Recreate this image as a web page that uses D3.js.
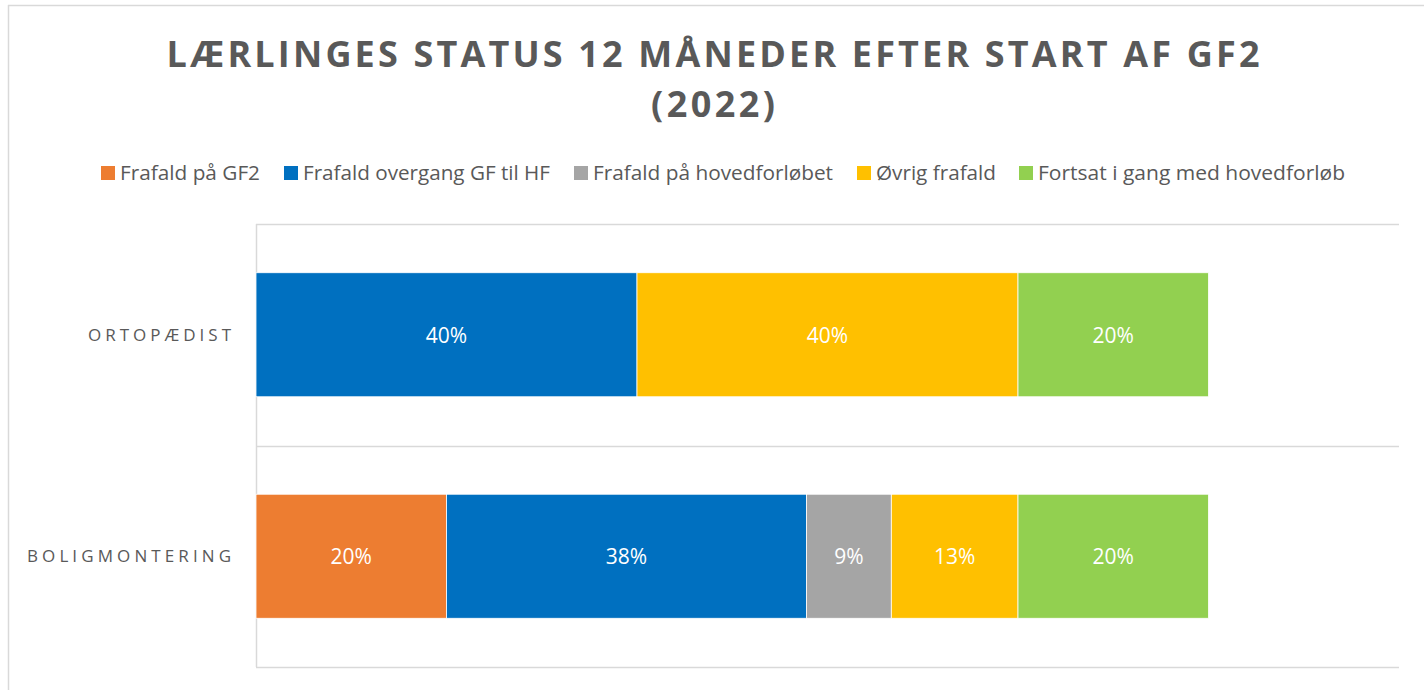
<!DOCTYPE html>
<html>
<head>
<meta charset="utf-8">
<script src="https://cdn.jsdelivr.net/npm/d3@7"></script>
<style>
  html, body { margin: 0; padding: 0; background: #fff; }
  svg { display: block; font-family: "Open Sans", "Noto Sans", sans-serif; }
</style>
</head>
<body>
<svg id="chart" width="1424" height="690"></svg>
<script>
// ---- Data ----
const titleLines = ["LÆRLINGES STATUS 12 MÅNEDER EFTER START AF GF2", "(2022)"];
const categories = ["ORTOPÆDIST", "BOLIGMONTERING"];
const seriesNames = ["Frafald på GF2", "Frafald overgang GF til HF", "Frafald på hovedforløbet", "Øvrig frafald", "Fortsat i gang med hovedforløb"];
const seriesColors = ["#ED7D31", "#0070C0", "#A5A5A5", "#FFC000", "#92D050"];
const ortopaedist = [0, 0.40, 0, 0.40, 0.20];
const boligmontering = [0.20, 0.378, 0.089, 0.133, 0.20];
const valuesByCategory = [ortopaedist, boligmontering];
const xDomain = [0, 1.2];

// ---- Layout ----
const svg = d3.select("#chart");
const W = 1424, H = 690;
const plot = { left: 256, right: 1399, top: 224, bottom: 667 };
const textColor = "#595959";
const gridColor = "#D9D9D9";

// outer frame (partial, as in the reference crop)
svg.append("line").attr("x1", 8).attr("x2", W).attr("y1", 5.5).attr("y2", 5.5)
  .attr("stroke", gridColor).attr("stroke-width", 1.5);
svg.append("line").attr("x1", 8.5).attr("x2", 8.5).attr("y1", 5).attr("y2", H)
  .attr("stroke", gridColor).attr("stroke-width", 1.5);

// title
const titleWidths = [1093, 124];
const titleY = [67, 117];
titleLines.forEach((t, i) => {
  svg.append("text")
    .attr("x", W / 2 + 1).attr("y", titleY[i])
    .attr("text-anchor", "middle")
    .attr("font-size", 36).attr("font-weight", 700)
    .attr("fill", textColor)
    .attr("textLength", titleWidths[i]).attr("lengthAdjust", "spacing")
    .text(t);
});

// legend
const legendX = [101, 284, 574, 857, 1019];
const legendTextW = [140, 247, 240, 120, 307];
const lg = svg.append("g");
seriesNames.forEach((name, i) => {
  lg.append("rect").attr("x", legendX[i]).attr("y", 166).attr("width", 14).attr("height", 14)
    .attr("fill", seriesColors[i]);
  lg.append("text").attr("x", legendX[i] + 19).attr("y", 179.5)
    .attr("font-size", 20.5).attr("fill", textColor)
    .attr("textLength", legendTextW[i]).attr("lengthAdjust", "spacingAndGlyphs")
    .text(name);
});

// scales
const x = d3.scaleLinear().domain(xDomain).range([plot.left, plot.right]);
const y = d3.scaleBand().domain(categories).range([plot.top, plot.bottom])
  .paddingInner(0.44).paddingOuter(0.22);
const yCell = d3.scaleBand().domain(categories).range([plot.top, plot.bottom]).padding(0);

// gridlines (category separators)
const gridYs = [plot.top, ...categories.map(c => yCell(c) + yCell.bandwidth())];
svg.append("g").selectAll("line").data(gridYs).join("line")
  .attr("x1", plot.left).attr("x2", plot.right)
  .attr("y1", d => Math.round(d) + 0.5).attr("y2", d => Math.round(d) + 0.5)
  .attr("stroke", gridColor).attr("stroke-width", 1.5);

// y axis line
svg.append("line").attr("x1", plot.left + 0.5).attr("x2", plot.left + 0.5)
  .attr("y1", plot.top).attr("y2", plot.bottom)
  .attr("stroke", gridColor).attr("stroke-width", 1.5);

// stacked bars
const stackData = categories.map((c, ci) => {
  const row = { cat: c };
  seriesNames.forEach((s, si) => row[s] = valuesByCategory[ci][si]);
  return row;
});
const stacked = d3.stack().keys(seriesNames)(stackData);

const barsG = svg.append("g");
stacked.forEach((layer, si) => {
  layer.forEach(seg => {
    const v = seg[1] - seg[0];
    if (v <= 0) return;
    const cat = seg.data.cat;
    const x0 = x(seg[0]), x1 = x(seg[1]);
    barsG.append("rect")
      .attr("x", x0).attr("y", y(cat))
      .attr("width", x1 - x0).attr("height", y.bandwidth())
      .attr("fill", seriesColors[si])
      .attr("stroke", "#ffffff").attr("stroke-width", 0.8);
    barsG.append("text")
      .attr("x", (x0 + x1) / 2).attr("y", y(cat) + y.bandwidth() / 2 + 8)
      .attr("text-anchor", "middle")
      .attr("font-size", 21).attr("fill", "#ffffff")
      .text(d3.format(".0%")(v));
  });
});

// category labels
const catW = [143, 204];
categories.forEach((c, i) => {
  svg.append("text")
    .attr("x", 231).attr("y", y(c) + y.bandwidth() / 2 + 6)
    .attr("text-anchor", "end")
    .attr("font-size", 17).attr("fill", textColor)
    .attr("textLength", catW[i]).attr("lengthAdjust", "spacing")
    .text(c);
});
</script>
</body>
</html>
